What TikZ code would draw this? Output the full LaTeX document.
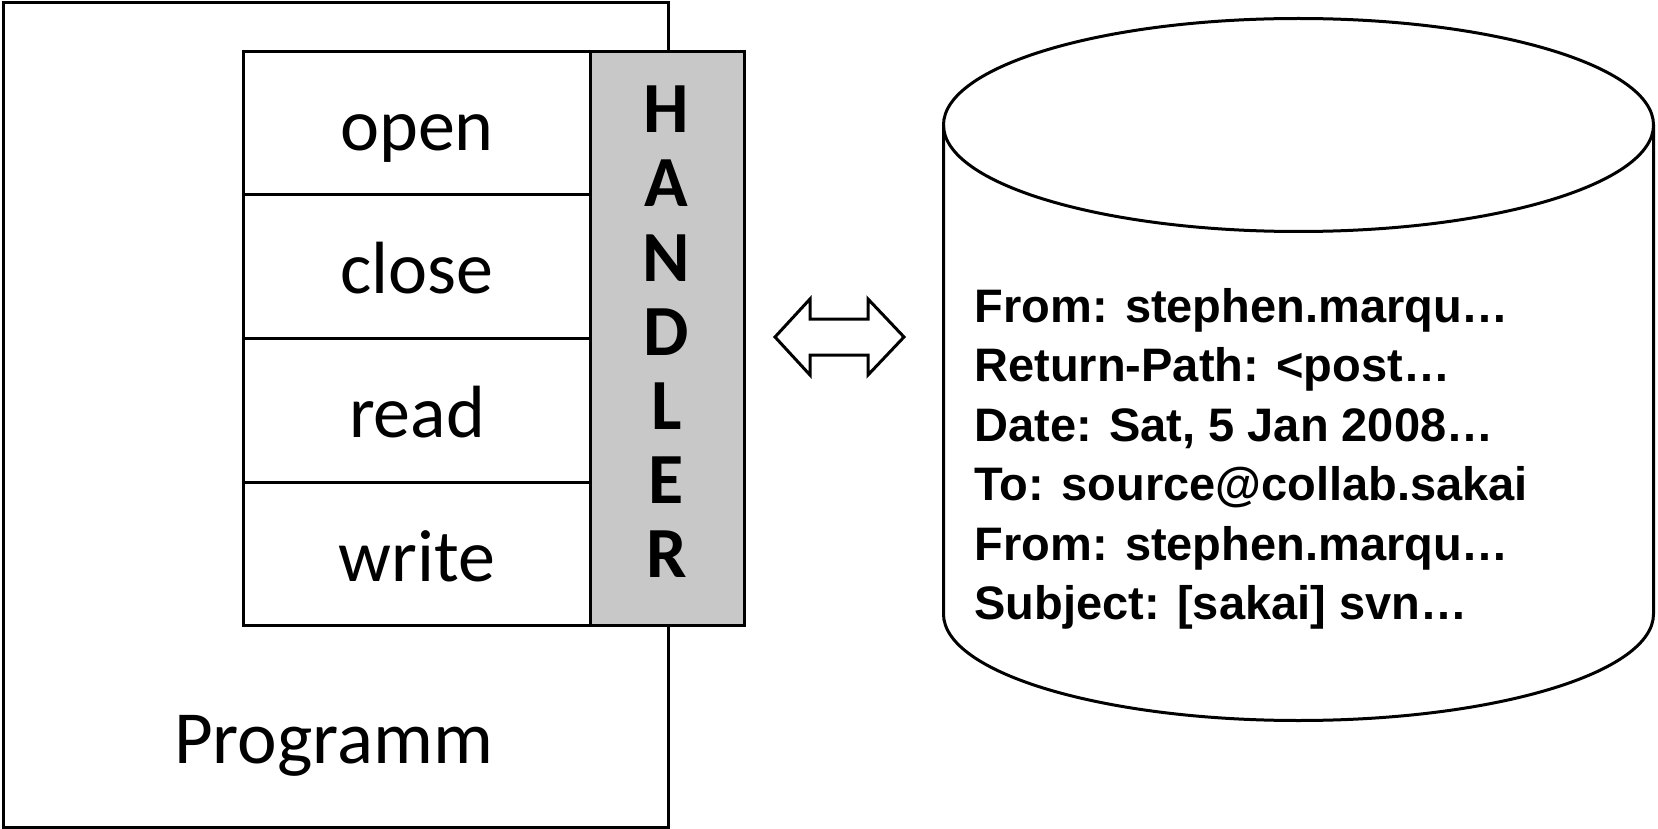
\documentclass[tikz,border=0pt]{standalone}
\usepackage{fontspec}
\setmainfont{Carlito}
\newfontfamily\arialfont{Liberation Sans}
\definecolor{handlergray}{RGB}{200,200,200}
\begin{document}
\begin{tikzpicture}[x=1pt,y=-1pt,line width=3pt,
  cell/.style={draw,fill=white,anchor=north west,minimum width=347pt,minimum height=143.5pt,inner sep=0pt,
    text height=99pt,text depth=44.5pt,font=\fontsize{74}{80}\selectfont},
  hletter/.style={anchor=base,inner sep=0pt,font=\fontsize{72}{80}\selectfont\bfseries},
  mailline/.style={anchor=base west,inner sep=0pt,font=\arialfont\bfseries\fontsize{47}{52}\selectfont}]
\useasboundingbox (0,0) rectangle (1658,829);
% program box
\node (prog) [draw,anchor=north west,minimum width=665.5pt,minimum height=824.5pt,inner sep=0pt] at (1.5,1.5) {};
\node (progtxt) [anchor=base,inner sep=0pt,font=\fontsize{75}{80}\selectfont] at (333.5,763) {Programm};
% table
\node (open)  [cell] at (242,50)    {open};
\node (close) [cell] at (242,193.5) {close};
\node (read)  [cell] at (242,337)   {read};
\node (write) [cell] at (242,480.5) {write};
\node (handler) [draw,fill=handlergray,anchor=north west,minimum width=154pt,minimum height=574pt,inner sep=0pt] at (589,50) {};
\foreach \l [count=\i] in {H,A,N,D,L,E,R}
  \node (h\i) [hletter] at (666.5,{133+74*(\i-1)}) {\l};
% double arrow
\draw[line join=miter] (775,337) -- (810,299) -- (810,319) -- (868,319) -- (868,299) -- (904,337)
  -- (868,375) -- (868,355) -- (810,355) -- (810,375) -- cycle;
% cylinder
\draw (943.5,125) -- (943.5,614) arc[start angle=180,end angle=360,x radius=355pt,y radius=106.5pt] -- (1653.5,125);
\draw (1298.5,125) ellipse [x radius=355pt,y radius=106.5pt];
% mail text
\node (m1) [mailline] at (973,322) {From: stephen.marqu…};
\node (m2) [mailline] at (973,381.5) {Return-Path: <post…};
\node (m3) [mailline] at (973,441) {Date: Sat, 5 Jan 2008…};
\node (m4) [mailline] at (973,500.5) {To: source@collab.sakai};
\node (m5) [mailline] at (973,560) {From: stephen.marqu…};
\node (m6) [mailline] at (973,619.5) {Subject: [sakai] svn…};
\end{tikzpicture}
\end{document}
